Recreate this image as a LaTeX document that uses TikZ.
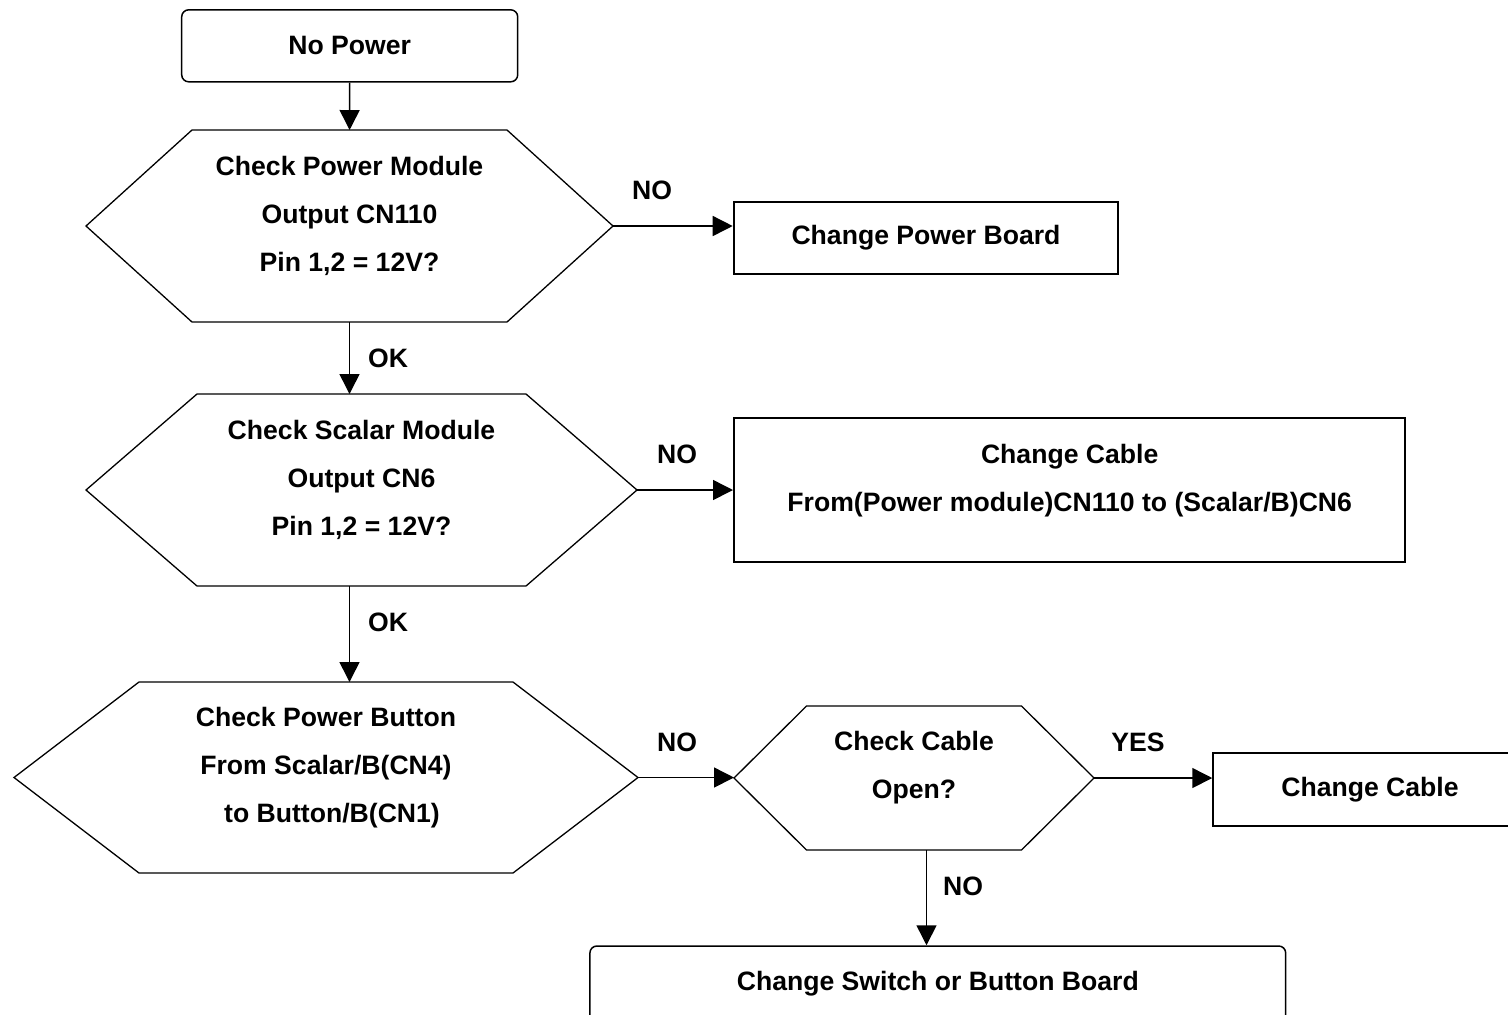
\documentclass[tikz,border=0pt]{standalone}
\usepackage{fontspec}
\setmainfont{Liberation Sans}
\usetikzlibrary{arrows.meta}

\tikzset{
  txt/.style={font=\fontsize{13.3}{24}\selectfont\bfseries, align=center, inner sep=0pt},
  endbox/.style={txt, draw, rounded corners=3.5pt, line width=0.75pt},
  actbox/.style={txt, draw, line width=1pt},
  hexnode/.style={inner sep=0pt, outer sep=0pt},
  arr/.style={-{Triangle[length=10pt,width=10pt]}, line width=0.75pt}
}

% hexagon round a node: name, slant
\newcommand{\hexline}[2]{%
  \draw[line width=0.65pt] (#1.west) -- ([xshift=#2]#1.north west) -- ([xshift=-#2]#1.north east)
    -- (#1.east) -- ([xshift=-#2]#1.south east) -- ([xshift=#2]#1.south west) -- cycle;}

\begin{document}
\begin{tikzpicture}[x=0.5pt, y=-0.5pt]
		\useasboundingbox (0,0) rectangle (1508,1014);
		
		\node[endbox, minimum width=168pt, minimum height=36pt] (start) at (349.7,45.8) {No Power};
		
		% decisions
		\node[hexnode, minimum width=263.5pt, minimum height=96pt] (pm) at (349.5,226) {};
		\hexline{pm}{53pt}
		\node[txt] (pmtxt) at ([yshift=5pt]pm.center) {Check Power Module\\Output CN110\\Pin 1,2 = 12V?};
		
		\node[hexnode, minimum width=275.5pt, minimum height=96pt] (sc) at (361.5,490) {};
		\hexline{sc}{55.5pt}
		\node[txt] (sctxt) at ([yshift=5pt]sc.center) {Check Scalar Module\\Output CN6\\Pin 1,2 = 12V?};
		
		\node[hexnode, minimum width=312pt, minimum height=95.5pt] (pb) at (326,777.5) {};
		\hexline{pb}{62.5pt}
		\node[txt] (pbtxt) at ([yshift=4.75pt]pb.center) {Check Power Button\\From Scalar/B(CN4)\\\hspace*{6pt}to Button/B(CN1)};
		
		\node[hexnode, minimum width=180pt, minimum height=72pt] (cc) at (914,778) {};
		\hexline{cc}{36.25pt}
		\node[txt] (cctxt) at ([yshift=5pt]cc.center) {Check Cable\\Open?};
		
		% actions
		\node[actbox, minimum width=192.3pt, minimum height=36.2pt] (pwrbrd) at (926,237.9) {Change Power Board};
		\node[actbox, minimum width=335.7pt, minimum height=72pt] (cable1) at (1069.7,490.3) {};
		\node[txt] (cable1txt) at ([yshift=5pt]cable1.center) {Change Cable\\From(Power module)CN110 to (Scalar/B)CN6};
		\node[actbox, minimum width=156.75pt, minimum height=36.5pt] (cable2) at (1370,789.5) {Change Cable};
		\node[endbox, minimum width=347.9pt, minimum height=38pt] (final) at (937.8,984) {Change Switch or Button Board};
		
		% connectors
		\draw[arr] (start) -- (pm);
		\draw[arr] (pm.east) -- (pm.east -| pwrbrd.west);
		\draw[arr] (pm.south) -- (pm.south |- sc.north);
		\draw[arr] (sc.east) -- (sc.east -| cable1.west);
		\draw[arr] (sc.south -| pm.south) -- (pb.north -| pm.south);
		\draw[arr] (pb.east) -- (pb.east -| cc.west);
		\draw[arr] (cc.east) -- (cc.east -| cable2.west);
		\draw[arr] ([xshift=6.25pt]cc.south) -- ([xshift=6.25pt]cc.south |- final.north);
		
		\node[txt] (no1) at (652,190) {NO};
		\node[txt] (ok1) at (388,358) {OK};
		\node[txt] (no2) at (677,454) {NO};
		\node[txt] (ok2) at (388,622) {OK};
		\node[txt] (no3) at (677,742) {NO};
		\node[txt] (yes) at (1138,742) {YES};
		\node[txt] (no4) at (963,886) {NO};
\end{tikzpicture}
\end{document}
